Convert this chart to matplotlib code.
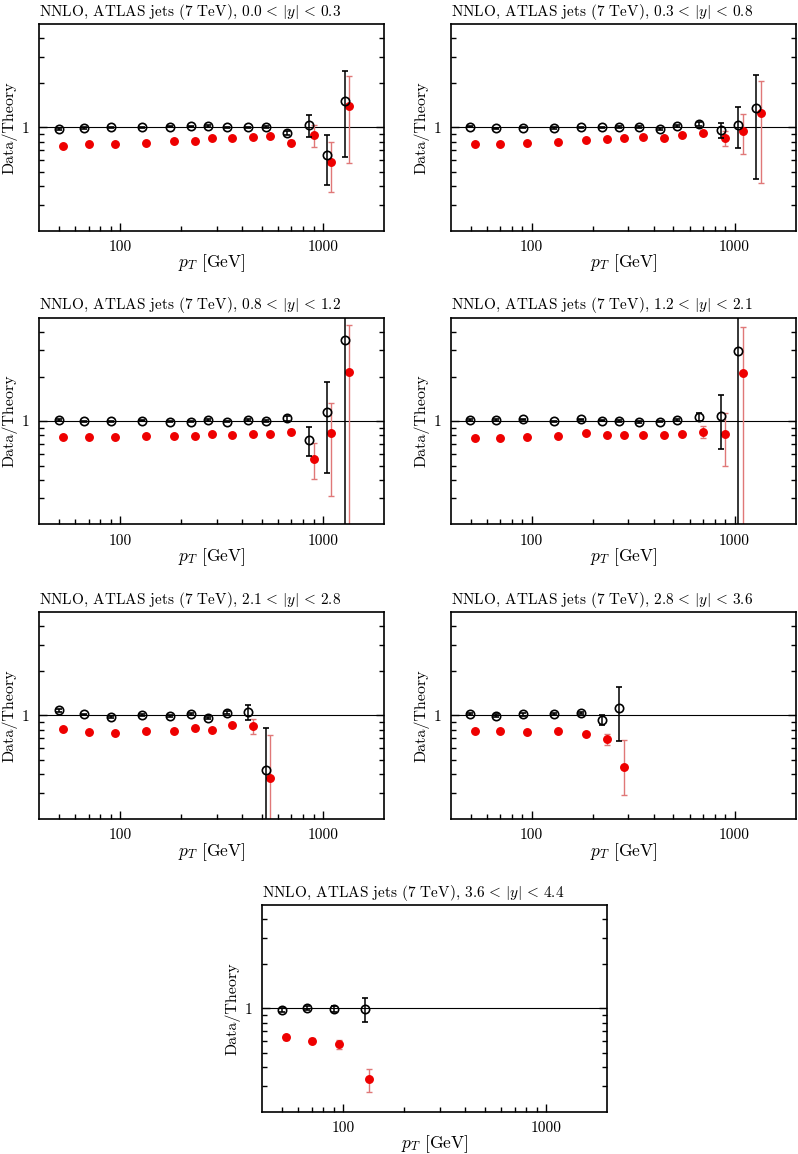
import matplotlib
matplotlib.use("Agg")
import matplotlib.pyplot as plt
from matplotlib.ticker import FixedLocator, FixedFormatter, NullFormatter

plt.rcParams['font.family'] = 'cmr10'
plt.rcParams['mathtext.fontset'] = 'cm'
plt.rcParams['axes.formatter.use_mathtext'] = True

# bin centres in pT [GeV] (ATLAS 2010 inclusive jets)
pt_centers = [52.5, 70, 95, 135, 185, 235, 285, 355, 450, 550, 700, 900, 1100, 1350]

y_bins = [r"0.0 \,<\, |y| \,<\, 0.3", r"0.3 \,<\, |y| \,<\, 0.8", r"0.8 \,<\, |y| \,<\, 1.2",
          r"1.2 \,<\, |y| \,<\, 2.1", r"2.1 \,<\, |y| \,<\, 2.8", r"2.8 \,<\, |y| \,<\, 3.6",
          r"3.6 \,<\, |y| \,<\, 4.4"]

# black open circles: value, lower and upper end of error bar
black_vals = [
    [0.974, 0.99, 1.0, 1.0, 1.01, 1.016, 1.02, 1.0, 1.0, 1.01, 0.916, 1.03, 0.65, 1.514],
    [1.01, 0.985, 0.995, 0.99, 1.0, 1.0, 1.005, 1.005, 0.98, 1.02, 1.053, 0.954, 1.042, 1.358],
    [1.02, 0.995, 0.995, 1.005, 0.99, 0.99, 1.016, 0.99, 1.02, 1.005, 1.053, 0.748, 1.15, 3.53],
    [1.02, 1.02, 1.026, 0.995, 1.026, 1.005, 1.0, 0.985, 0.99, 1.01, 1.07, 1.075, 2.96],
    [1.08, 1.016, 0.974, 1.01, 0.99, 1.02, 0.964, 1.042, 1.048, 0.43],
    [1.026, 0.995, 1.016, 1.026, 1.037, 0.935, 1.115],
    [0.97, 1.005, 0.99, 0.995],
]
black_lo = [
    [0.955, 0.98, 0.99, 0.99, 1.0, 1.006, 1.01, 0.99, 0.99, 0.995, 0.885, 0.86, 0.406, 0.627],
    [1.0, 0.975, 0.985, 0.98, 0.99, 0.99, 0.995, 0.995, 0.965, 1.0, 1.025, 0.843, 0.72, 0.45],
    [1.005, 0.985, 0.985, 0.995, 0.98, 0.98, 1.005, 0.98, 1.005, 0.99, 1.0, 0.58, 0.443, 0.05],
    [1.005, 1.005, 1.01, 0.985, 1.01, 0.995, 0.99, 0.975, 0.98, 0.995, 1.005, 0.65, 0.05],
    [1.06, 1.0, 0.96, 0.995, 0.975, 1.005, 0.95, 1.02, 0.925, 0.05],
    [1.005, 0.975, 0.995, 1.01, 1.02, 0.86, 0.67],
    [0.94, 0.975, 0.94, 0.81],
]
black_hi = [
    [0.99, 1.0, 1.01, 1.01, 1.02, 1.026, 1.03, 1.01, 1.01, 1.025, 0.95, 1.21, 0.888, 2.40],
    [1.02, 0.995, 1.005, 1.0, 1.01, 1.01, 1.015, 1.015, 0.995, 1.04, 1.08, 1.075, 1.365, 2.26],
    [1.035, 1.005, 1.005, 1.015, 1.0, 1.0, 1.027, 1.0, 1.035, 1.02, 1.09, 0.915, 1.85, 20.0],
    [1.035, 1.035, 1.04, 1.005, 1.04, 1.015, 1.01, 0.995, 1.0, 1.025, 1.14, 1.49, 20.0],
    [1.10, 1.03, 0.99, 1.025, 1.005, 1.035, 0.98, 1.065, 1.17, 0.825],
    [1.045, 1.015, 1.037, 1.042, 1.055, 1.01, 1.55],
    [1.0, 1.035, 1.04, 1.17],
]

# red filled circles
red_vals = [
    [0.744, 0.772, 0.772, 0.784, 0.813, 0.813, 0.847, 0.847, 0.865, 0.869, 0.784, 0.892, 0.586, 1.40],
    [0.776, 0.776, 0.788, 0.80, 0.821, 0.83, 0.851, 0.86, 0.843, 0.883, 0.915, 0.847, 0.945, 1.243],
    [0.776, 0.78, 0.784, 0.79, 0.788, 0.79, 0.813, 0.804, 0.817, 0.813, 0.847, 0.557, 0.83, 2.16],
    [0.764, 0.772, 0.784, 0.79, 0.825, 0.809, 0.804, 0.8, 0.8, 0.817, 0.838, 0.817, 2.10],
    [0.808, 0.767, 0.76, 0.79, 0.784, 0.825, 0.796, 0.86, 0.852, 0.375],
    [0.79, 0.784, 0.776, 0.78, 0.744, 0.689, 0.445],
    [0.637, 0.605, 0.57, 0.33],
]
red_lo = [
    [0.739, 0.767, 0.767, 0.779, 0.808, 0.808, 0.841, 0.841, 0.858, 0.862, 0.755, 0.74, 0.366, 0.577],
    [0.771, 0.771, 0.783, 0.795, 0.815, 0.824, 0.845, 0.853, 0.836, 0.872, 0.90, 0.752, 0.66, 0.42],
    [0.771, 0.775, 0.779, 0.785, 0.783, 0.785, 0.806, 0.798, 0.81, 0.806, 0.815, 0.405, 0.31, 0.05],
    [0.759, 0.767, 0.779, 0.785, 0.818, 0.803, 0.798, 0.794, 0.794, 0.805, 0.767, 0.50, 0.05],
    [0.802, 0.761, 0.754, 0.784, 0.778, 0.818, 0.79, 0.852, 0.75, 0.05],
    [0.78, 0.774, 0.755, 0.77, 0.73, 0.635, 0.29],
    [0.615, 0.585, 0.53, 0.27],
]
red_hi = [
    [0.749, 0.777, 0.777, 0.789, 0.818, 0.818, 0.853, 0.853, 0.872, 0.876, 0.815, 1.03, 0.80, 2.22],
    [0.781, 0.781, 0.793, 0.805, 0.827, 0.836, 0.857, 0.867, 0.85, 0.894, 0.93, 0.945, 1.24, 2.07],
    [0.781, 0.785, 0.789, 0.795, 0.793, 0.795, 0.82, 0.81, 0.824, 0.82, 0.88, 0.71, 1.33, 4.48],
    [0.769, 0.777, 0.789, 0.795, 0.832, 0.815, 0.81, 0.806, 0.806, 0.829, 0.92, 1.13, 4.3],
    [0.814, 0.773, 0.766, 0.796, 0.79, 0.832, 0.802, 0.868, 0.945, 0.737],
    [0.80, 0.794, 0.797, 0.79, 0.758, 0.752, 0.683],
    [0.66, 0.625, 0.614, 0.39],
]

fig = plt.figure(figsize=(7.98, 11.54), dpi=100)

# axes boxes in figure fraction
w, h = 0.432, 0.1791
positions = [(0.0492, 0.8001), (0.565, 0.8001),
             (0.0492, 0.5456), (0.565, 0.5456),
             (0.0492, 0.2905), (0.565, 0.2905),
             (0.3287, 0.0367)]

shift = 0.95  # black points drawn slightly left of the bin centre

for i in range(7):
    ax = fig.add_axes([positions[i][0], positions[i][1], w, h])
    n = len(black_vals[i])
    xb = [p * shift for p in pt_centers[:n]]
    xr = pt_centers[:n]

    ax.axhline(1.0, color='black', lw=0.8, zorder=1)

    yb = black_vals[i]
    eb = [[v - l for v, l in zip(yb, black_lo[i])], [u - v for v, u in zip(yb, black_hi[i])]]
    ax.errorbar(xb, yb, yerr=eb, fmt='o', mfc='none', mec='black', ms=6, mew=1.2,
                ecolor='black', elinewidth=1.1, capsize=2.5, capthick=1.1, zorder=3)

    yr = red_vals[i]
    er = [[v - l for v, l in zip(yr, red_lo[i])], [u - v for v, u in zip(yr, red_hi[i])]]
    ax.errorbar(xr, yr, yerr=er, fmt='o', mfc='#ee0000', mec='#ee0000', ms=5.4,
                ecolor='#e07878', elinewidth=1.0, capsize=2.5, capthick=1.0, zorder=2)

    ax.set_xscale('log')
    ax.set_yscale('log')
    ax.set_xlim(40, 2000)
    ax.set_ylim(0.2, 5)

    ax.xaxis.set_major_locator(FixedLocator([100, 1000]))
    ax.xaxis.set_major_formatter(FixedFormatter(['100', '1000']))
    ax.xaxis.set_minor_locator(FixedLocator([50, 60, 70, 80, 90, 200, 300, 400, 500, 600, 700, 800, 900]))
    ax.xaxis.set_minor_formatter(NullFormatter())
    ax.yaxis.set_major_locator(FixedLocator([1]))
    ax.yaxis.set_major_formatter(FixedFormatter(['1']))
    ax.yaxis.set_minor_locator(FixedLocator([0.3, 0.4, 0.5, 0.6, 0.7, 0.8, 0.9, 2, 3, 4]))
    ax.yaxis.set_minor_formatter(NullFormatter())

    ax.tick_params(which='both', direction='in', left=True, right=True, top=False, bottom=True,
                   labelsize=11, width=1.0)
    ax.tick_params(which='major', length=6, pad=7)
    ax.tick_params(which='minor', length=3.5)
    for s in ax.spines.values():
        s.set_linewidth(1.2)

    ax.set_title("NNLO, ATLAS jets (7 TeV), $" + y_bins[i] + "$", loc='left', fontsize=11, pad=6)
    ax.set_xlabel("$p_T$ [GeV]", fontsize=12.5, labelpad=-1)
    ax.set_ylabel("Data/Theory", fontsize=11.5)
    ax.yaxis.set_label_coords(-0.062, 0.5)

fig.savefig("out.png", dpi=100)
